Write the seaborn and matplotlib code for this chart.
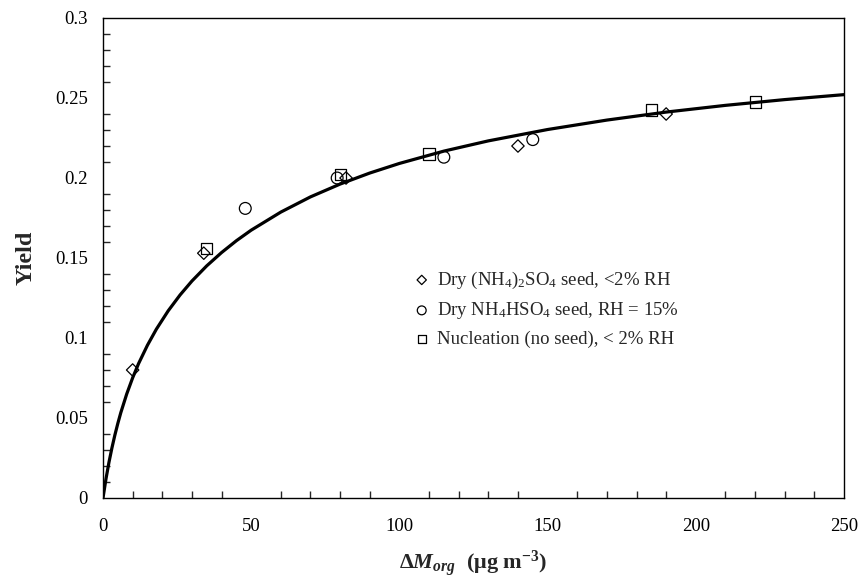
import matplotlib
matplotlib.use('Agg')
import matplotlib.pyplot as plt
import seaborn as sns
import pandas as pd
from matplotlib.ticker import MultipleLocator, FixedLocator

# ---- data ----
curve_x = [0, 1, 2, 3, 4, 5, 6, 8, 10, 12, 15, 18, 22, 26, 30, 35, 40, 45, 50,
           60, 70, 80, 90, 100, 115, 130, 150, 170, 190, 210, 230, 250]
curve_y = [0.0, 0.0119, 0.0222, 0.0312, 0.0393, 0.0466, 0.0533, 0.0650, 0.0751,
           0.0840, 0.0955, 0.1055, 0.1170, 0.1269, 0.1356, 0.1451, 0.1534, 0.1608,
           0.1674, 0.1787, 0.1882, 0.1962, 0.2031, 0.2091, 0.2168, 0.2232, 0.2303,
           0.2362, 0.2412, 0.2454, 0.2490, 0.2521]

dry_as_x = [10, 34, 82, 140, 190]
dry_as_y = [0.080, 0.153, 0.200, 0.220, 0.240]
dry_bs_x = [48, 79, 115, 145]
dry_bs_y = [0.181, 0.200, 0.213, 0.224]
nuc_x = [35, 80, 110, 185, 220]
nuc_y = [0.156, 0.202, 0.215, 0.2425, 0.2475]

series_labels = [r'Dry (NH$_4$)$_2$SO$_4$ seed, <2% RH',
                 r'Dry NH$_4$HSO$_4$ seed, RH = 15%',
                 r'Nucleation (no seed), < 2% RH']

x_ticks = [0, 50, 100, 150, 200, 250]
y_ticks = [0, 0.05, 0.1, 0.15, 0.2, 0.25, 0.3]
y_ticklabels = ['0', '0.05', '0.1', '0.15', '0.2', '0.25', '0.3']

# ---- style ----
sns.set_theme(style='white')
plt.rcParams['font.family'] = ['Liberation Serif', 'DejaVu Serif']
plt.rcParams['mathtext.fontset'] = 'custom'
plt.rcParams['mathtext.rm'] = 'Liberation Serif'
plt.rcParams['mathtext.it'] = 'Liberation Serif:italic'
plt.rcParams['mathtext.bf'] = 'Liberation Serif:bold'
plt.rcParams['mathtext.bfit'] = 'Liberation Serif:italic:bold'

fig = plt.figure(figsize=(8.64, 5.88), dpi=100)
ax = fig.add_axes([103/864, 1-498/588, 741/864, 480/588])

df_curve = pd.DataFrame({'x': curve_x, 'y': curve_y})
sns.lineplot(data=df_curve, x='x', y='y', color='black', linewidth=2.3,
             sort=False, estimator=None, ax=ax, zorder=2)

common = dict(facecolor='none', edgecolor='black', linewidth=0.9, ax=ax, zorder=3)
sns.scatterplot(x=dry_as_x, y=dry_as_y, marker='D', s=40, label=series_labels[0], **common)
sns.scatterplot(x=dry_bs_x, y=dry_bs_y, marker='o', s=72, label=series_labels[1], **common)
sns.scatterplot(x=nuc_x, y=nuc_y, marker='s', s=64, label=series_labels[2], **common)

ax.set_xlim(0, 250)
ax.set_ylim(0, 0.3)
ax.xaxis.set_major_locator(FixedLocator(x_ticks))
ax.xaxis.set_minor_locator(MultipleLocator(10))
ax.yaxis.set_major_locator(FixedLocator(y_ticks))
ax.yaxis.set_minor_locator(MultipleLocator(0.01))
ax.set_xticklabels([str(t) for t in x_ticks])
ax.set_yticklabels(y_ticklabels)

ax.tick_params(which='major', direction='inout', length=9.5, width=1.0,
               labelsize=13.5, colors='black', top=False, right=False)
ax.tick_params(which='minor', direction='in', length=5, width=1.0,
               top=False, right=False, bottom=True, left=True)
ax.tick_params(axis='x', which='major', pad=10)
ax.tick_params(axis='y', which='major', pad=6)

for sp in ax.spines.values():
    sp.set_visible(True)
    sp.set_color('black')
    sp.set_linewidth(1.0)

ax.set_xlabel(r'$\mathbf{\Delta}\mathbfit{M}_{\mathbfit{org}}$  (μg m$^{\mathbf{-3}}$)',
              fontsize=16, fontweight='bold', va='top')
ax.xaxis.set_label_coords(0.5, -0.104)
ax.set_ylabel('Yield', fontsize=17.5, fontweight='bold')
ax.yaxis.set_label_coords(-0.09, 0.5)

handles, labels = ax.get_legend_handles_labels()
ax.legend(handles, labels, loc='center left', bbox_to_anchor=(0.42, 0.394),
          frameon=False, fontsize=13.5, markerscale=0.75, handlelength=0.8,
          handletextpad=0.4, labelspacing=0.5, borderaxespad=0, borderpad=0)

fig.savefig('out.png', dpi=100)
